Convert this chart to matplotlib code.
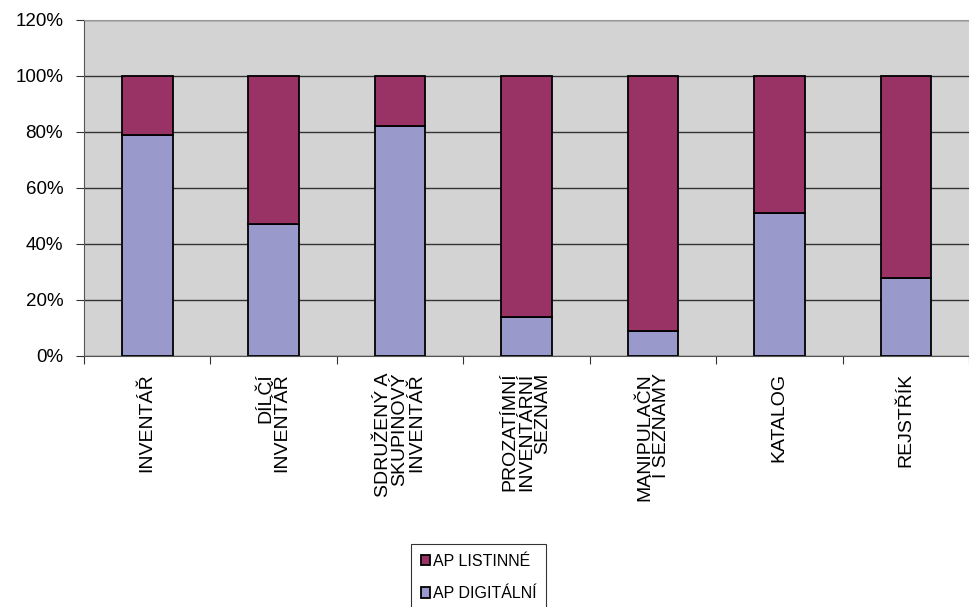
import numpy as np
import matplotlib.pyplot as plt
from matplotlib.ticker import FixedLocator, PercentFormatter

categories = ["INVENTÁŘ", "DÍLČÍ\nINVENTÁŘ", "SDRUŽENÝ A\nSKUPINOVÝ\nINVENTÁŘ",
              "PROZATÍMNÍ\nINVENTÁRNÍ\nSEZNAM", "MANIPULAČN\nÍ SEZNAMY",
              "KATALOG", "REJSTŘÍK"]
digital = [79, 47, 82, 14, 9, 51, 28]
listinne = [21, 53, 18, 86, 91, 49, 72]

plt.rcParams['font.family'] = ['Liberation Sans', 'DejaVu Sans']

fig = plt.figure(figsize=(9.69, 6.07), dpi=100)
ax = fig.add_axes([84 / 969, 1 - 356 / 607, 1 - 84 / 969, 336 / 607])
ax.set_facecolor('#D3D3D3')

x = np.arange(len(categories))
b1 = ax.bar(x, digital, width=0.4, color='#9999CC', edgecolor='black', linewidth=1.3,
            label='AP DIGITÁLNÍ', zorder=3)
b2 = ax.bar(x, listinne, width=0.4, bottom=digital, color='#993366', edgecolor='black',
            linewidth=1.3, label='AP LISTINNÉ', zorder=3)

ax.set_xlim(-0.5, len(categories) - 0.5)
ax.set_ylim(0, 120)
ax.set_yticks(np.arange(0, 121, 20))
ax.yaxis.set_major_formatter(PercentFormatter(decimals=0))
ax.grid(axis='y', color='#333333', linewidth=1, zorder=0)
ax.tick_params(axis='y', labelsize=13.5, length=6, pad=9, direction='out',
               color='#333333')

# category boundaries as ticks, labels in the middle
ax.xaxis.set_major_locator(FixedLocator(np.arange(-0.5, len(categories), 1)))
ax.xaxis.set_major_formatter(plt.NullFormatter())
ax.tick_params(axis='x', length=6, direction='out', color='#333333')
for xi, lab in zip(x, categories):
    ax.text(xi, -6, lab, rotation=90, ha='center', va='top', multialignment='right',
            fontsize=14, linespacing=0.95)

for side in ['left', 'bottom']:
    ax.spines[side].set_color('#555555')
ax.spines['top'].set_color('#999999')
ax.spines['right'].set_visible(False)

leg = fig.legend(handles=[b2, b1], labels=['AP LISTINNÉ', 'AP DIGITÁLNÍ'],
                 loc='upper left', bbox_to_anchor=(411 / 969, 1 - 544 / 607),
                 frameon=True, fancybox=False, edgecolor='black', fontsize=11.5,
                 handlelength=0.6, handleheight=0.6, handletextpad=0.15,
                 borderpad=0.6, labelspacing=1.1, borderaxespad=0)
leg.get_frame().set_linewidth(0.8)

fig.savefig('out.png', dpi=100)
